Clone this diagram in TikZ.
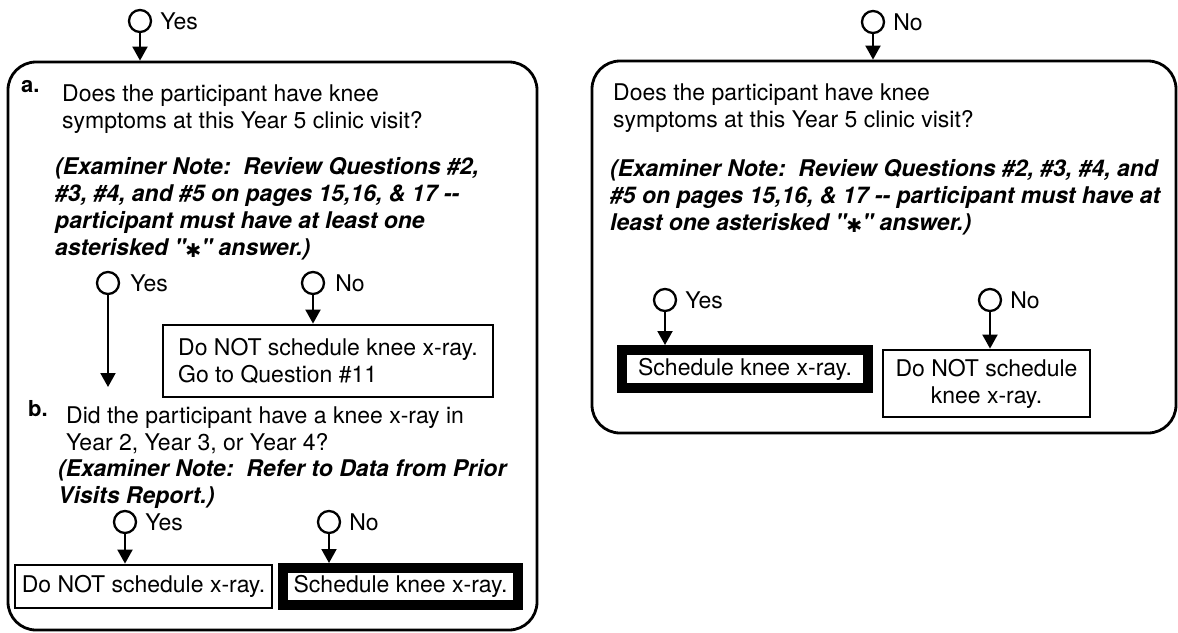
\documentclass[tikz,border=0pt]{standalone}
\usepackage{fontspec}
\setmainfont{TeX Gyre Heros}
\newfontfamily\symfont{DejaVu Sans}
\usetikzlibrary{arrows.meta, positioning}

\newcommand{\heavyast}{{\symfont\fontsize{19}{19}\selectfont\raisebox{-2pt}{✱}}}

\begin{document}
\begin{tikzpicture}[x=1pt, y=-1pt,
  panel/.style={draw, line width=2.8pt, rounded corners=28pt, inner sep=0pt},
  choice/.style={draw, circle, line width=2.3pt, minimum size=22pt, inner sep=0pt},
  answer/.style={font=\fontsize{23}{27}\selectfont, inner sep=0pt, anchor=west},
  body/.style={font=\fontsize{23}{27}\selectfont, inner sep=0pt, align=left, anchor=base west},
  note/.style={body, font=\fontsize{23}{27}\selectfont\bfseries\itshape},
  tag/.style={font=\fontsize{22}{22}\selectfont\bfseries, inner sep=0pt, anchor=base west},
  action/.style={draw, line width=2.8pt, inner sep=0pt, font=\fontsize{23}{27}\selectfont, align=center},
  doit/.style={action, line width=10pt},
  flow/.style={-{Triangle[length=14pt, width=15pt]}, line width=2pt}]
\useasboundingbox (0,0) rectangle (1178,632);

% left panel: knee symptoms, then prior x-ray
\node[choice] (yesTop) at (140,21) {};
\node[answer, right=8pt of yesTop] (yesTopL) {Yes};
\node[panel, minimum width=529pt, minimum height=568pt] (panelA) at (272.5,346) {};
\draw[flow] (yesTop) -- (yesTop |- panelA.north);

\node[tag] (tagA) at (21,92) {a.};
\node[body] (qA) at (62,128) {Does the participant have knee\\symptoms at this Year 5 clinic visit?};
\node[note] (noteA) at (55,255) {(Examiner Note:\ \ Review Questions \#2,\\\#3, \#4, and \#5 on pages 15,16, \& 17 -{}-\\participant must have at least one\\asterisked \textquotedbl\heavyast\textquotedbl\ answer.)};

\node[choice] (yesA) at (108,283) {};
\node[answer, right=10pt of yesA] (yesAL) {Yes};
\node[choice] (noA) at (313,283) {};
\node[answer, right=10pt of noA] (noAL) {No};
\coordinate (toB) at (108,387);
\draw[flow] (yesA) -- (toB);
\node[action, align=left, minimum width=330pt, minimum height=72pt] (skipA) at (328,361) {Do NOT schedule knee x-ray.\\Go to Question \#11};
\draw[flow] (noA) -- (noA |- skipA.north);

\node[tag] (tagB) at (28,416) {b.};
\node[body] (qB) at (66,450) {Did the participant have a knee x-ray in\\Year 2, Year 3, or Year 4?};
\node[note] (noteB) at (58,503) {(Examiner Note:\ \ Refer to Data from Prior\\Visits Report.)};

\node[choice] (yesB) at (125,522) {};
\node[answer, right=8pt of yesB] (yesBL) {Yes};
\node[choice] (noB) at (329,522) {};
\node[answer, right=8pt of noB] (noBL) {No};
\node[action, minimum width=257pt, minimum height=43pt] (skipB) at (143.5,586.5) {Do NOT schedule x-ray.};
\node[doit, minimum width=235pt, minimum height=37pt] (doB) at (400.5,586.5) {Schedule knee x-ray.};
\draw[flow] (yesB) -- (yesB |- skipB.north);
\draw[flow] (noB) -- (noB |- doB.north);

% right panel
\node[choice] (noTop) at (873,22) {};
\node[answer, right=8pt of noTop] (noTopL) {No};
\node[panel, minimum width=584pt, minimum height=372pt] (panelB) at (884,247) {};
\draw[flow] (noTop) -- (noTop |- panelB.north);

\node[body] (qC) at (613,127) {Does the participant have knee\\symptoms at this Year 5 clinic visit?};
\node[note] (noteC) at (610,230) {(Examiner Note:\ \ Review Questions \#2, \#3, \#4, and\\\#5 on pages 15,16, \& 17 -{}- participant must have at\\least one asterisked \textquotedbl\heavyast\textquotedbl\ answer.)};

\node[choice] (yesC) at (665,300) {};
\node[answer, right=8pt of yesC] (yesCL) {Yes};
\node[choice] (noC) at (990,300) {};
\node[answer, right=8pt of noC] (noCL) {No};
\node[doit, minimum width=246pt, minimum height=38pt] (doC) at (745,369) {Schedule knee x-ray.};
\node[action, minimum width=207pt, minimum height=67pt] (skipC) at (986.5,383.5) {Do NOT schedule\\knee x-ray.};
\draw[flow] (yesC) -- (yesC |- doC.north);
\draw[flow] (noC) -- (noC |- skipC.north);
\end{tikzpicture}
\end{document}
